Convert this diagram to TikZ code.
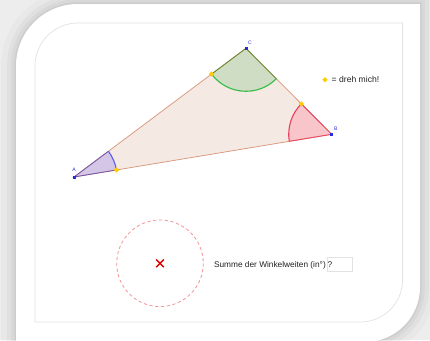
\documentclass[tikz,border=0pt]{standalone}
\usepackage{fontspec}
\setmainfont{Liberation Sans}
\usetikzlibrary{shapes.geometric,calc}
\definecolor{bgcol}{HTML}{EDEDED}
\definecolor{framecol}{HTML}{E2E2E2}
\definecolor{trifill}{HTML}{F5EAE3}
\definecolor{triedge}{HTML}{D9987E}
\definecolor{afill}{HTML}{D3C6E6}
\definecolor{aedge}{HTML}{7452B4}
\definecolor{aarc}{HTML}{5A5CF0}
\definecolor{cfill}{HTML}{CFDDC5}
\definecolor{cedge}{HTML}{5C8A2C}
\definecolor{carc}{HTML}{35BB45}
\definecolor{bfill}{HTML}{F7C5CA}
\definecolor{bedge}{HTML}{E8415C}
\definecolor{ptblue}{HTML}{2A2ADD}
\definecolor{ptyellow}{HTML}{FFCC00}
\definecolor{circcol}{HTML}{F29494}
\definecolor{xcol}{HTML}{E00000}
\definecolor{txtcol}{HTML}{222222}
\tikzset{
  bluept/.style={rectangle,fill=ptblue,inner sep=0pt,minimum size=3pt},
  yellowpt/.style={diamond,fill=ptyellow,inner sep=0pt,minimum size=5.5pt},
  vlabel/.style={text=ptblue,font=\fontsize{5}{5}\selectfont,inner sep=0pt},
  bodytext/.style={text=txtcol,font=\fontsize{8.3}{9}\selectfont,inner sep=0pt},
  legendtext/.style={text=txtcol,font=\fontsize{8.6}{9}\selectfont,inner sep=0pt},
  sectorarc/.style={line width=1.1pt},
  sectoredge/.style={line width=0.8pt},
}
\begin{document}
\begin{tikzpicture}[x=1pt,y=-1pt]
\useasboundingbox (0,0) rectangle (430,340);
\clip (0,0) rectangle (430,340);
\fill[bgcol] (0,0) rectangle (430,340);
% outer white card path (bottom edge lies below the picture)
\def\cardpath{(16,380) -- (16,66) arc[start angle=180,end angle=270,radius=62] -- (420,4) -- (420,287) arc[start angle=0,end angle=90,radius=55] -- (365,380) -- cycle}
\foreach \w/\o in {30/0.02,18/0.03,10/0.03,4/0.03,1.5/0.03}{
  \draw[line width=\w pt,black,opacity=\o] \cardpath;
}
\fill[white] \cardpath;
% inner frame
\draw[framecol,line width=0.7pt] (35,322) -- (35,66) arc[start angle=180,end angle=270,radius=43] -- (402.5,23) -- (402.5,280) arc[start angle=0,end angle=90,radius=42] -- cycle;
% triangle
\coordinate (A) at (74,177);
\coordinate (B) at (331.7,134.3);
\coordinate (C) at (246,48.3);
\fill[trifill] (A) -- (B) -- (C) -- cycle;
% sectors
\fill[afill] (A) -- ++(-9.41:43) arc[start angle=-9.41,end angle=-36.8,radius=43] -- cycle;
\fill[cfill] (C) -- ++(45.1:43) arc[start angle=45.1,end angle=143.2,radius=43] -- cycle;
\fill[bfill] (B) -- ++(170.59:43) arc[start angle=170.59,end angle=225.1,radius=43] -- cycle;
\draw[triedge,line width=0.75pt] (A) -- (B) -- (C) -- cycle;
\draw[aedge,sectoredge] ($(A)+(-36.8:43)$) -- (A) -- ++(-9.41:43);
\draw[aarc,sectorarc] (A) ++(-9.41:43) arc[start angle=-9.41,end angle=-36.8,radius=43];
\draw[cedge,sectoredge] ($(C)+(143.2:43)$) -- (C) -- ++(45.1:43);
\draw[carc,sectorarc] (C) ++(45.1:43) arc[start angle=45.1,end angle=143.2,radius=43];
\draw[bedge,sectoredge] ($(B)+(225.1:43)$) -- (B) -- ++(170.59:43);
\draw[bedge,sectorarc] (B) ++(170.59:43) arc[start angle=170.59,end angle=225.1,radius=43];
% rotation handles
\node[yellowpt] (yA) at ($(A)+(-9.41:43)$) {};
\node[yellowpt] (yC) at ($(C)+(143.2:43)$) {};
\node[yellowpt] (yB) at ($(B)+(225.1:43)$) {};
% vertices
\node[bluept] (pA) at (A) {};
\node[bluept] (pB) at (B) {};
\node[bluept] (pC) at (C) {};
\node[vlabel] (lA) at (74,169.5) {A};
\node[vlabel] (lB) at (335.8,128.5) {B};
\node[vlabel] (lC) at (250,43) {C};
% legend
\node[yellowpt] (leg) at (325,79.7) {};
\node[legendtext,anchor=base west] (legtext) at (331.5,82.6) {= dreh mich!};
% dashed circle and cross
\coordinate (X) at (160,263.3);
\draw[circcol,dash pattern=on 3.2pt off 2.6pt,line width=0.8pt] (X) circle[radius=43.3];
\draw[xcol,line width=1.4pt] ($(X)+(-3.8,-3.8)$) -- ($(X)+(3.8,3.8)$);
\draw[xcol,line width=1.4pt] ($(X)+(-3.8,3.8)$) -- ($(X)+(3.8,-3.8)$);
% question
\node[bodytext,anchor=base east] (q) at (326,267.8) {Summe der Winkelweiten (in°)};
\node[draw=framecol,line width=0.7pt,anchor=north west,minimum width=25.6pt,minimum height=13.4pt,inner sep=0pt] (ans) at (326.7,257.3) {};
\node[bodytext,anchor=base west] (qm) at (327.3,267.8) {?};
\end{tikzpicture}
\end{document}
